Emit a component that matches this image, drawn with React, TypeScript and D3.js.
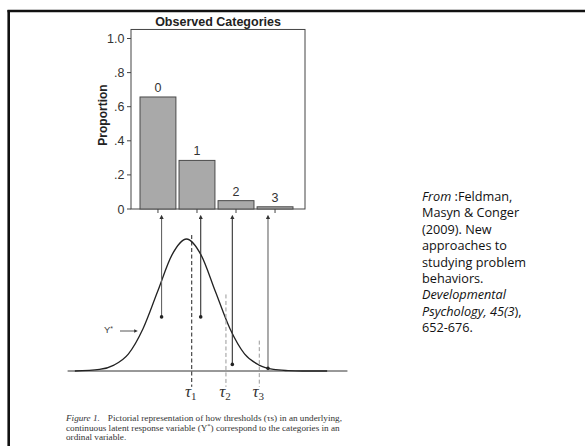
import React, { useRef, useEffect } from "react";
import * as d3 from "d3";

// observed categories (bar panel)
const categories = ["0", "1", "2", "3"];
const proportions = [0.657, 0.285, 0.049, 0.013];
const yTicks = [0, 0.2, 0.4, 0.6, 0.8, 1.0];
const yTickLabels = ["0", ".2", ".4", ".6", ".8", "1.0"];

// latent Y* curve (z units, height relative to peak)
const curveZ = [-3.85, -3.0, -2.5, -2.0, -1.5, -1.0, -0.5, 0, 0.5, 1.0, 1.5, 2.0, 2.5, 3.0, 3.5, 4.0, 4.85];
const curveH = [0, 0.012, 0.045, 0.13, 0.32, 0.6, 0.88, 1.0, 0.88, 0.6, 0.32, 0.13, 0.045, 0.012, 0.003, 0, 0];

// thresholds
const tauNames = ["1", "2", "3"];
const tauZ = [0.18, 1.36, 2.51];
const tauTop = [1.03, 0.58, 0.23];

// points mapped to each category
const pointZ = [-0.86, 0.49, 1.58, 2.81];
const pointH = [0.41, 0.41, 0.05, 0.02];

const noteLines = [
  [["From", true], [" :Feldman,", false]],
  [["Masyn & Conger", false]],
  [["(2009). New", false]],
  [["approaches to", false]],
  [["studying problem", false]],
  [["behaviors.", false]],
  [["Developmental", true]],
  [["Psychology, 45(3", true], ["),", false]],
  [["652-676.", false]],
];

const App = () => {
  const ref = useRef<SVGSVGElement>(null);

  useEffect(() => {
    const svg = d3.select(ref.current);
    svg.selectAll("*").remove();
    const sans = "'Liberation Sans', Arial, sans-serif";
    const serif = "'Liberation Serif', 'Times New Roman', serif";

    // slide frame
    svg.append("line").attr("x1", 7.5).attr("x2", 585).attr("y1", 11).attr("y2", 11)
      .attr("stroke", "#111").attr("stroke-width", 2.6);
    svg.append("line").attr("x1", 8.7).attr("x2", 8.7).attr("y1", 10).attr("y2", 446)
      .attr("stroke", "#111").attr("stroke-width", 2.6);

    // ---- bar panel ----
    const x = d3.scaleBand().domain(categories).range([140, 293]).paddingInner(0.08).paddingOuter(0);
    const y = d3.scaleLinear().domain([0, 1]).range([209, 38.5]);
    const ink = "#333";

    svg.append("rect")
      .attr("x", 131).attr("y", y(1.053))
      .attr("width", 305 - 131).attr("height", y(0) - y(1.053))
      .attr("fill", "none").attr("stroke", "#444").attr("stroke-width", 1);

    svg.append("g").selectAll("rect").data(proportions).join("rect")
      .attr("x", (d, i) => x(categories[i])!)
      .attr("y", d => y(d))
      .attr("width", x.bandwidth())
      .attr("height", d => y(0) - y(d))
      .attr("fill", "#a9a9a9").attr("stroke", "#4a4a4a").attr("stroke-width", 1);

    svg.append("g").selectAll("text").data(proportions).join("text")
      .attr("x", (d, i) => x(categories[i])! + x.bandwidth() / 2)
      .attr("y", d => y(d) - 5)
      .attr("text-anchor", "middle")
      .attr("font-family", sans).attr("font-size", 12.5)
      .attr("fill", ink)
      .text((d, i) => categories[i]);

    // y axis ticks
    const yAxis = svg.append("g");
    yAxis.selectAll("line").data(yTicks).join("line")
      .attr("x1", 127).attr("x2", 131).attr("y1", d => y(d)).attr("y2", d => y(d))
      .attr("stroke", "#444");
    yAxis.selectAll("text").data(yTicks).join("text")
      .attr("x", 124.5).attr("y", d => y(d) + 4.5)
      .attr("text-anchor", "end")
      .attr("font-family", sans).attr("font-size", 12.5)
      .attr("fill", ink)
      .text((d, i) => yTickLabels[i]);

    // x ticks below bars
    svg.append("g").selectAll("line").data(categories).join("line")
      .attr("x1", d => x(d)! + x.bandwidth() / 2).attr("x2", d => x(d)! + x.bandwidth() / 2)
      .attr("y1", y(0)).attr("y2", y(0) + 4)
      .attr("stroke", "#444");

    svg.append("text").attr("x", 218).attr("y", 26)
      .attr("text-anchor", "middle").attr("font-weight", "bold")
      .attr("font-family", sans).attr("font-size", 12.5)
      .attr("fill", "#222").text("Observed Categories");

    svg.append("text")
      .attr("transform", "translate(107,115) rotate(-90)")
      .attr("text-anchor", "middle").attr("font-weight", "bold")
      .attr("font-family", sans).attr("font-size", 12)
      .attr("fill", "#222").text("Proportion");

    // ---- latent panel ----
    const zx = d3.scaleLinear().domain([-4, 5.5]).range([70.5, 346]);
    const hy = d3.scaleLinear().domain([0, 1]).range([371, 239]);

    svg.append("line").attr("x1", zx(-4.1)).attr("x2", zx(5.55))
      .attr("y1", hy(0)).attr("y2", hy(0))
      .attr("stroke", "#333").attr("stroke-width", 1);

    const line = d3.line<number>()
      .x((d, i) => zx(curveZ[i]))
      .y(d => hy(d))
      .curve(d3.curveMonotoneX);
    svg.append("path").datum(curveH).attr("d", line)
      .attr("fill", "none").attr("stroke", "#222").attr("stroke-width", 1.3);

    // thresholds
    const tau = svg.append("g");
    tau.selectAll("line").data(tauZ).join("line")
      .attr("x1", d => zx(d)).attr("x2", d => zx(d))
      .attr("y1", (d, i) => hy(tauTop[i])).attr("y2", hy(-0.12))
      .attr("stroke", (d, i) => (i === 0 ? "#222" : "#999"))
      .attr("stroke-width", 1)
      .attr("stroke-dasharray", "4,2.5");
    const tl = tau.selectAll("text").data(tauZ).join("text")
      .attr("x", d => zx(d) - 1).attr("y", 397)
      .attr("text-anchor", "middle")
      .attr("font-family", serif)
      .attr("fill", "#333");
    tl.append("tspan").attr("font-style", "italic").attr("font-size", 17).text("\u03c4");
    tl.append("tspan").attr("font-size", 11).attr("dy", 3).text((d, i) => tauNames[i]);

    // arrows from points up to categories
    svg.append("defs").append("marker")
      .attr("id", "head").attr("viewBox", "0 0 6 6").attr("refX", 3).attr("refY", 3)
      .attr("markerWidth", 4).attr("markerHeight", 4).attr("orient", "auto")
      .append("path").attr("d", "M0,0L6,3L0,6Z").attr("fill", "#333");

    const arrows = svg.append("g");
    arrows.selectAll("line").data(pointZ).join("line")
      .attr("x1", d => zx(d)).attr("x2", d => zx(d))
      .attr("y1", (d, i) => hy(pointH[i])).attr("y2", y(0) + 8)
      .attr("stroke", (d, i) => (i === 0 || i === 3 ? "#666" : "#333"))
      .attr("stroke-width", 1.1)
      .attr("marker-end", "url(#head)");
    arrows.selectAll("circle").data(pointZ).join("circle")
      .attr("cx", d => zx(d)).attr("cy", (d, i) => hy(pointH[i]))
      .attr("r", 1.8).attr("fill", "#222");

    // Y* label
    const ys = svg.append("text").attr("x", 104).attr("y", 332.5)
      .attr("font-family", sans).attr("font-size", 9.5)
      .attr("fill", "#444");
    ys.append("tspan").text("Y");
    ys.append("tspan").attr("dy", -2).attr("font-size", 7).text("*");
    svg.append("line").attr("x1", 120).attr("x2", 136).attr("y1", 331).attr("y2", 331)
      .attr("stroke", "#444").attr("stroke-width", 0.9).attr("marker-end", "url(#head)");

    // caption
    const cap = svg.append("g")
      .attr("font-family", serif)
      .attr("font-size", 9.2).attr("fill", "#333");
    const c1 = cap.append("text").attr("x", 66).attr("y", 421);
    c1.append("tspan").attr("font-style", "italic").text("Figure 1.");
    c1.append("tspan").attr("dx", 8).text("Pictorial representation of how thresholds (\u03c4s) in an underlying,");
    const c2 = cap.append("text").attr("x", 66).attr("y", 430.5);
    c2.append("tspan").text("continuous latent response variable (Y");
    c2.append("tspan").attr("dy", -3).attr("font-size", 6.5).text("*");
    c2.append("tspan").attr("dy", 3).text(") correspond to the categories in an");
    cap.append("text").attr("x", 66).attr("y", 440).text("ordinal variable.");

    // source note
    const note = svg.append("g")
      .attr("font-family", "'Open Sans', sans-serif").attr("font-size", 12.7).attr("fill", "#111");
    noteLines.forEach((parts, i) => {
      const t = note.append("text").attr("x", 422).attr("y", 201 + i * 16.4);
      parts.forEach(([s, it]) => {
        t.append("tspan").attr("font-style", it ? "italic" : "normal").text(s as string);
      });
    });
  }, []);

  return (
    <svg
      ref={ref}
      width={585}
      height={446}
      style={{ position: "absolute", left: 0, top: 0, background: "#fff" }}
    />
  );
};

export default App;
